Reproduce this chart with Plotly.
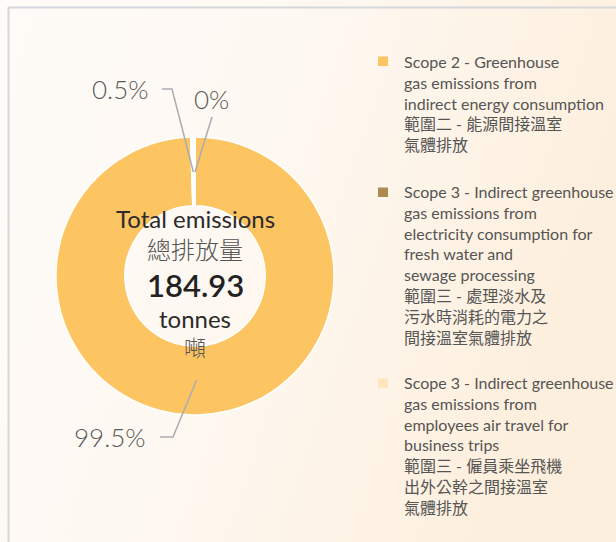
import math
import base64
import plotly.graph_objects as go

# ---------------- data ----------------
categories = [
    "Scope 2 - Greenhouse gas emissions from indirect energy consumption",
    "Scope 3 - Indirect greenhouse gas emissions from electricity consumption for fresh water and sewage processing",
    "Scope 3 - Indirect greenhouse gas emissions from employees air travel for business trips",
]
shares = [99.5, 0.5, 0.0]
share_labels = ["99.5%", "0.5%", "0%"]
total_value = "184.93"
legend_lines = [
    ["Scope 2 - Greenhouse", "gas emissions from", "indirect energy consumption",
     "範圍二 - 能源間接溫室", "氣體排放"],
    ["Scope 3 - Indirect greenhouse", "gas emissions from", "electricity consumption for",
     "fresh water and", "sewage processing", "範圍三 - 處理淡水及", "污水時消耗的電力之",
     "間接溫室氣體排放"],
    ["Scope 3 - Indirect greenhouse", "gas emissions from", "employees air travel for",
     "business trips", "範圍三 - 僱員乘坐飛機", "出外公幹之間接溫室", "氣體排放"],
]
legend_colors = ["#fdc462", "#ad8a52", "#fde6bd"]
slice_colors = ["#fdc462", "#ffffff", "#fde6bd"]

# ---------------- layout constants ----------------
W, H = 616, 542
CX, CY, R = 195, 276, 139
HOLE = 0.505

def px(x):
    return x / W

def py(y):
    return 1 - y / H

fig = go.Figure()
fig.add_trace(go.Pie(
    labels=categories,
    values=shares,
    sort=False,
    direction="clockwise",
    rotation=0,
    hole=HOLE,
    marker=dict(colors=slice_colors, line=dict(color="#ffffff", width=1.5)),
    textinfo="none",
    hoverinfo="label+percent",
    showlegend=False,
    domain=dict(x=[px(CX - R), px(CX + R)], y=[py(CY + R), py(CY - R)]),
))

# background gradient
svg = ('<svg xmlns="http://www.w3.org/2000/svg" width="616" height="542">'
       '<defs><linearGradient id="g" x1="0" y1="0" x2="1" y2="0.3">'
       '<stop offset="0" stop-color="#fefbf8"/><stop offset="0.5" stop-color="#fef8f1"/>'
       '<stop offset="1" stop-color="#fdefdd"/></linearGradient></defs>'
       '<rect width="616" height="542" fill="url(#g)"/></svg>')
uri = "data:image/svg+xml;base64," + base64.b64encode(svg.encode()).decode()

shapes = [
    dict(type="line", xref="paper", yref="paper", x0=px(8), x1=1, y0=py(7.5), y1=py(7.5),
         line=dict(color="#d4d7db", width=2)),
    dict(type="line", xref="paper", yref="paper", x0=px(8.5), x1=px(8.5), y0=py(7), y1=0,
         line=dict(color="#d4d7db", width=2)),
]
annotations = []

# leader lines from slice midpoints (computed from data) to label positions
r_mid = 104
total = sum(shares)
cum = 0
mids = []
for v in shares:
    a = (cum + v / 2) / total * 2 * math.pi
    mids.append((CX + r_mid * math.sin(a), CY - r_mid * math.cos(a)))
    cum += v

label_pos = [(110, 437), (120, 89), (211, 99)]
elbows = [[(173, 437), (160, 437)], [(172, 89), (162, 89)], [(212, 117)]]
for i, lab in enumerate(share_labels):
    pts = [mids[i]] + elbows[i]
    path = "M " + " L ".join(f"{px(x)},{py(y)}" for x, y in pts)
    shapes.append(dict(type="path", xref="paper", yref="paper", path=path,
                       line=dict(color="#a9adb2", width=1.5)))
    lx, ly = label_pos[i]
    annotations.append(dict(x=px(lx), y=py(ly), xref="paper", yref="paper", text=lab,
                            showarrow=False, xanchor="center", yanchor="middle",
                            font=dict(family="Lato", size=26, color="#595959", weight=300)))

# centre text
centre = [
    ("Total emissions", 219, dict(family="Lato", size=24, color="#2b2b2b", weight=400)),
    ("總排放量", 248, dict(family="Noto Sans CJK TC", size=24, color="#555555", weight=300)),
    (total_value, 285, dict(family="Lato", size=31, color="#222222", weight=600)),
    ("tonnes", 318, dict(family="Lato", size=24, color="#2b2b2b", weight=400)),
    ("噸", 346, dict(family="Noto Sans CJK TC", size=22, color="#555555", weight=300)),
]
for t, y, f in centre:
    annotations.append(dict(x=px(CX), y=py(y), xref="paper", yref="paper", text=t,
                            showarrow=False, xanchor="center", yanchor="middle", font=f))

# custom legend (one multi-line text block per category)
block_tops = [61, 192, 383]
FS = 16
LH = FS * 1.3
for b, lines in enumerate(legend_lines):
    y0 = block_tops[b]
    shapes.append(dict(type="rect", xref="paper", yref="paper",
                       x0=px(378), x1=px(388), y0=py(y0 - 4.5), y1=py(y0 + 5),
                       fillcolor=legend_colors[b], line=dict(width=0)))
    yc = y0 + (len(lines) - 1) * LH / 2
    annotations.append(dict(
        x=px(402), y=py(yc), xref="paper", yref="paper", text="<br>".join(lines),
        showarrow=False, xanchor="left", yanchor="middle", align="left",
        font=dict(family="Lato, Noto Sans CJK TC", size=FS, color="#555555")))

fig.update_layout(
    width=W, height=H,
    margin=dict(l=0, r=0, t=0, b=0),
    paper_bgcolor="#fefaf5",
    plot_bgcolor="rgba(0,0,0,0)",
    shapes=shapes,
    annotations=annotations,
    images=[dict(source=uri, xref="paper", yref="paper", x=0, y=1, sizex=1, sizey=1,
                 sizing="stretch", layer="below", xanchor="left", yanchor="top")],
    showlegend=False,
)
fig.write_html("out.html",
               config={"displayModeBar": False},
               post_script="document.body.style.margin='0';document.body.style.overflow='hidden';")
